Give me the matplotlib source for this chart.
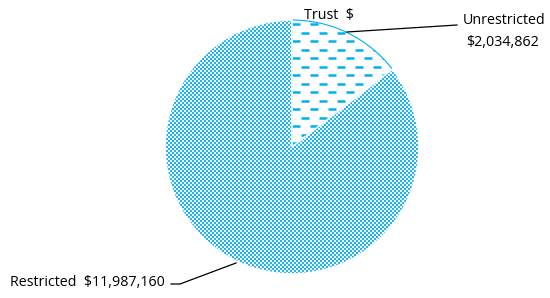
import numpy as np
import matplotlib.pyplot as plt
from matplotlib.colors import ListedColormap
from matplotlib.patches import Wedge

labels = ['Unrestricted', 'Restricted']
values = [2034862, 11987160]

W, H = 550, 298
cx, cy, R = 292, 147, 127

fig = plt.figure(figsize=(W / 100, H / 100), dpi=100)
ax = fig.add_axes([0, 0, 1, 1])
ax.axis('off')

wedges, _ = ax.pie(values, startangle=90, counterclock=False, radius=1,
                   wedgeprops=dict(linewidth=1.0))
xl = (-cx / R, (W - cx) / R)
yl = (-(H - cy) / R, cy / R)

# unrestricted: white with staggered blue dashes
w0 = wedges[0]
w0.set_facecolor('white')
w0.set_edgecolor('#00b0f0')
w0.set_linewidth(0.8)
step = 8.5 / R
ys = np.arange(1.0 - 0.5 * step, -0.05, -step)
for i, y in enumerate(ys):
    off = 0 if i % 2 == 0 else 3.6
    ln, = ax.plot([0, 1.1], [y, y], color='#00b0f0', lw=1.8,
                  linestyle=(off, (3.2, 4.0)), solid_capstyle='butt')
    ln.set_clip_path(w0)

# restricted: fine checker texture
w1 = wedges[1]
w1.set_facecolor('#8ad8f6')
w1.set_linewidth(0)
yy, xx = np.mgrid[0:H, 0:W]
checker = ((xx // 2 + yy // 2) % 2).astype(float)
cmap = ListedColormap(['#22b4ef', '#f2fbfe'])
im = ax.imshow(checker, cmap=cmap, extent=(xl[0], xl[1], yl[0], yl[1]),
               interpolation='nearest', origin='upper', zorder=2)
im.set_clip_path(w1)
w1b = Wedge((0, 0), 1, w1.theta1, w1.theta2,
            facecolor='none', edgecolor='white', lw=1.2, zorder=3)
ax.add_patch(w1b)
ax.set_xlim(*xl)
ax.set_ylim(*yl)
ax.set_aspect('equal')

font = dict(family=['Open Sans', 'DejaVu Sans'], fontsize=10.3, color='black')

def px(x, y):
    return (x - cx) / R, (cy - y) / R

ax.text(*px(304, 16), 'Trust  $', ha='left', va='center', zorder=5, **font)
ax.text(*px(463, 20), 'Unrestricted', ha='left', va='center', **font)
ax.text(*px(466, 42), '$2,034,862', ha='left', va='center', **font)
ax.plot(*zip(px(347, 32), px(457, 25)), color='black', lw=0.9, zorder=5)

ax.text(*px(10, 283), 'Restricted  $11,987,160', ha='left', va='center', **font)
ax.plot(*zip(px(171, 284), px(180, 284), px(236, 263)), color='black', lw=0.9, zorder=5)

fig.savefig('out.png', dpi=100)
